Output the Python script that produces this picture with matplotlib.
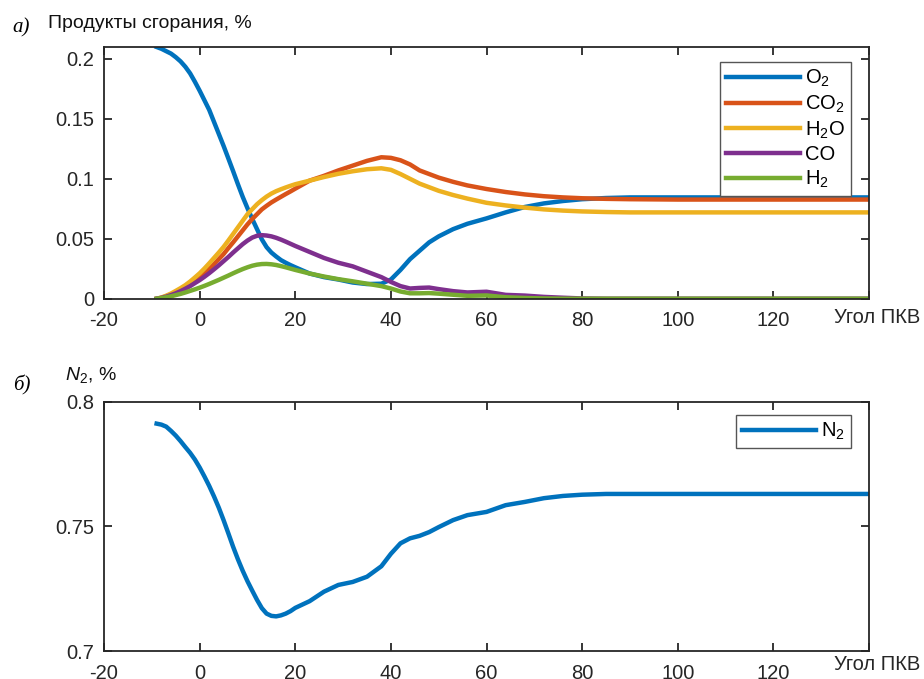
import matplotlib
matplotlib.use("Agg")
import matplotlib.pyplot as plt

plt.rcParams['font.family'] = ['Liberation Sans', 'DejaVu Sans']
plt.rcParams['mathtext.fontset'] = 'custom'
plt.rcParams['mathtext.rm'] = 'Liberation Sans'
plt.rcParams['mathtext.it'] = 'Liberation Sans:italic'

# crank angle, deg
angle = [-9, -8, -7, -6, -5, -4, -3, -2, -1, 0, 1, 2, 3, 4, 5, 6, 7, 8, 9, 10,
         11, 12, 13, 14, 15, 16, 17, 18, 19, 20, 23, 26, 29, 32, 35, 38,
         40, 42, 44, 46, 48, 50, 53, 56, 60, 64, 68, 72, 76, 80, 85, 90, 100, 110,
         120, 130, 140]

o2 = [0.210, 0.2085, 0.2065, 0.2045, 0.2015, 0.198, 0.1935, 0.188, 0.181, 0.1735,
      0.1655, 0.1575, 0.1475, 0.1375, 0.1275, 0.117, 0.1064, 0.0955, 0.085, 0.0755,
      0.0665, 0.058, 0.0495, 0.043, 0.0385, 0.0352, 0.0322, 0.030, 0.028, 0.0262,
      0.021, 0.018, 0.016, 0.0135, 0.0122, 0.0125,
      0.016, 0.024, 0.033, 0.040, 0.047, 0.052, 0.058, 0.0625, 0.067, 0.072,
      0.0765, 0.0795, 0.0815, 0.083, 0.084, 0.0845, 0.0845, 0.0845, 0.0845,
      0.0845, 0.0845]
co2 = [0.0, 0.0008, 0.002, 0.0035, 0.0052, 0.0072, 0.0095, 0.012, 0.0148, 0.0178,
       0.021, 0.0248, 0.0288, 0.033, 0.0372, 0.0422, 0.047, 0.052, 0.057, 0.062,
       0.0665, 0.0705, 0.0745, 0.0775, 0.0803, 0.0827, 0.085, 0.0873, 0.0895, 0.0918,
       0.0985, 0.1025, 0.107, 0.111, 0.115, 0.118,
       0.1175, 0.1155, 0.112, 0.107, 0.104, 0.101, 0.0975, 0.0945, 0.0915, 0.089,
       0.087, 0.0855, 0.0845, 0.0838, 0.0833, 0.083, 0.0827, 0.0827, 0.0827,
       0.0827, 0.0827]
h2o = [0.0, 0.001, 0.0025, 0.0043, 0.0065, 0.0088, 0.0113, 0.0143, 0.0177, 0.0212,
       0.0252, 0.0295, 0.034, 0.0385, 0.0432, 0.0485, 0.054, 0.0595, 0.065, 0.0705,
       0.0747, 0.0788, 0.0822, 0.0852, 0.0877, 0.0897, 0.0913, 0.0928, 0.0942, 0.0955,
       0.0985, 0.1015, 0.1042, 0.1063, 0.108, 0.1088,
       0.1075, 0.104, 0.100, 0.096, 0.093, 0.090, 0.0865, 0.0835, 0.080, 0.0778,
       0.076, 0.0745, 0.0735, 0.0728, 0.0723, 0.072, 0.072, 0.072, 0.072,
       0.072, 0.072]
co = [0.0, 0.0007, 0.0017, 0.003, 0.0045, 0.0063, 0.0083, 0.0105, 0.013, 0.0155,
      0.0183, 0.0213, 0.0245, 0.0278, 0.0313, 0.0348, 0.0385, 0.042, 0.0455, 0.0485,
      0.051, 0.0525, 0.053, 0.0527, 0.052, 0.0508, 0.0493, 0.0476, 0.0458, 0.044,
      0.039, 0.034, 0.030, 0.027, 0.0225, 0.018,
      0.014, 0.0105, 0.0085, 0.009, 0.0093, 0.008, 0.0063, 0.0052, 0.0058, 0.0032,
      0.0026, 0.0015, 0.0008, 0.0002, 0.0, 0.0, 0.0, 0.0, 0.0, 0.0, 0.0]
h2 = [0.0, 0.0005, 0.0012, 0.002, 0.003, 0.004, 0.0052, 0.0065, 0.0078, 0.0092,
      0.0107, 0.0123, 0.014, 0.0157, 0.0175, 0.0193, 0.0212, 0.023, 0.0247, 0.0262,
      0.0275, 0.0284, 0.0289, 0.029, 0.0287, 0.0281, 0.0272, 0.0262, 0.0251, 0.024,
      0.021, 0.0185, 0.0163, 0.0145, 0.0125, 0.0105,
      0.0085, 0.006, 0.0045, 0.0045, 0.0047, 0.0042, 0.0033, 0.0024, 0.0027, 0.0012,
      0.0006, 0.0002, 0.0, 0.0, 0.0, 0.0, 0.0, 0.0, 0.0, 0.0, 0.0]
n2 = [0.7912, 0.7908, 0.790, 0.7883, 0.7864, 0.7842, 0.7818, 0.7795, 0.7768, 0.7736,
      0.770, 0.7662, 0.762, 0.7575, 0.7525, 0.7472, 0.7418, 0.7368, 0.7322, 0.728,
      0.7242, 0.7205, 0.7172, 0.715, 0.7141, 0.7139, 0.7143, 0.715, 0.716, 0.7173,
      0.720, 0.7238, 0.7265, 0.7277, 0.7298, 0.734,
      0.739, 0.7432, 0.7452, 0.7462, 0.7477, 0.7497, 0.7525, 0.7545, 0.7558, 0.7585,
      0.7598, 0.7613, 0.7622, 0.7627, 0.763, 0.763, 0.763, 0.763, 0.763, 0.763, 0.763]

series = [("O$_2$", o2, "#0072BD"), ("CO$_2$", co2, "#D95319"),
          ("H$_2$O", h2o, "#EDB120"), ("CO", co, "#7E2F8E"), ("H$_2$", h2, "#77AC30")]

x_ticks = [-20, 0, 20, 40, 60, 80, 100, 120]
LW = 3.2
FS = 14.5
EDGE = "#262626"


def style_axes(ax):
    for s in ax.spines.values():
        s.set_color(EDGE)
        s.set_linewidth(1.3)
    ax.tick_params(direction="in", length=6, width=1.3, color=EDGE,
                   top=True, right=True, labelsize=FS, labelcolor=EDGE)
    ax.tick_params(axis="x", pad=9)
    ax.tick_params(axis="y", pad=7)
    ax.set_xlim(-20, 140)
    ax.set_xticks(x_ticks + [140])
    ax.set_xticklabels([str(t) for t in x_ticks] + [""])


fig = plt.figure(figsize=(9.24, 6.79), dpi=100)

# a) combustion products
ax1 = fig.add_axes([0.1126, 0.5601, 0.8279, 0.3707])
for label, vals, col in series:
    ax1.plot(angle, vals, color=col, lw=LW, label=label, solid_joinstyle="round")
style_axes(ax1)
ax1.set_ylim(0, 0.21)
ax1.set_yticks([0, 0.05, 0.1, 0.15, 0.2])
ax1.set_yticklabels(["0", "0.05", "0.1", "0.15", "0.2"])
leg = ax1.legend(loc="upper right", bbox_to_anchor=(0.9765, 0.9404), borderaxespad=0,
                 fontsize=FS, handlelength=3.7, labelspacing=0.22, fancybox=False,
                 framealpha=1, edgecolor="#555555", borderpad=0.3, handletextpad=0.25)
leg.get_frame().set_linewidth(1.0)
ax1.text(0.954, -0.074, "Угол ПКВ", transform=ax1.transAxes, ha="left", va="center",
         fontsize=FS, color=EDGE)

# b) nitrogen
ax2 = fig.add_axes([0.1126, 0.0412, 0.8279, 0.3672])
ax2.plot(angle, n2, color="#0072BD", lw=LW, label="N$_2$", solid_joinstyle="round")
style_axes(ax2)
ax2.set_ylim(0.7, 0.8)
ax2.set_yticks([0.7, 0.75, 0.8])
ax2.set_yticklabels(["0.7", "0.75", "0.8"])
leg2 = ax2.legend(loc="upper right", bbox_to_anchor=(0.9765, 0.9466), borderaxespad=0,
                  fontsize=FS, handlelength=3.7, fancybox=False, framealpha=1,
                  edgecolor="#555555", borderpad=0.3, handletextpad=0.25)
leg2.get_frame().set_linewidth(1.0)
ax2.text(0.954, -0.056, "Угол ПКВ", transform=ax2.transAxes, ha="left", va="center",
         fontsize=FS, color=EDGE)

# panel captions
fig.text(12 / 924, 1 - 28 / 679, "а)", family="Liberation Serif", style="italic",
         fontsize=15, va="center", ha="left")
fig.text(48 / 924, 1 - 23 / 679, "Продукты сгорания, %", fontsize=14, va="center",
         ha="left", color="#111111")
fig.text(13 / 924, 1 - 385 / 679, "б)", family="Liberation Serif", style="italic",
         fontsize=15, va="center", ha="left")
fig.text(65 / 924, 1 - 375 / 679, "$N_2$, %", fontsize=14, va="center", ha="left",
         color="#111111")

fig.savefig("out.png", dpi=100)
plt.close(fig)
